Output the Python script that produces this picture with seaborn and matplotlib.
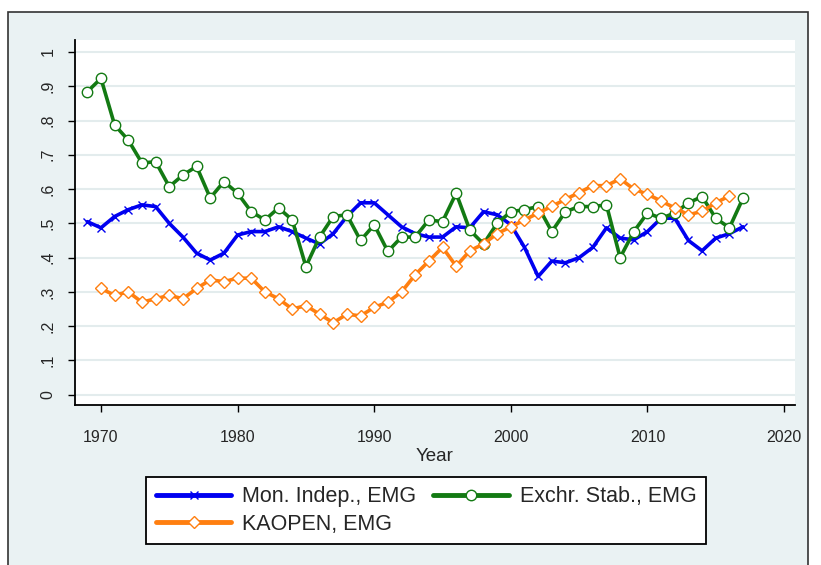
import matplotlib
matplotlib.use("Agg")
import matplotlib.pyplot as plt
from matplotlib.patches import Rectangle
import seaborn as sns

# ------------------------------------------------------------
# Trilemma indexes, emerging market group
# ------------------------------------------------------------
years_mi = list(range(1969, 2018))
mon_indep = [0.505, 0.487, 0.52, 0.54, 0.554, 0.549, 0.50, 0.46, 0.413, 0.393,
             0.413, 0.466, 0.476, 0.476, 0.49, 0.476, 0.457, 0.44, 0.47, 0.52,
             0.56, 0.56, 0.525, 0.49, 0.47, 0.46, 0.46, 0.49, 0.487, 0.534,
             0.525, 0.496, 0.43, 0.345, 0.39, 0.385, 0.40, 0.43, 0.487, 0.457,
             0.452, 0.476, 0.515, 0.515, 0.45, 0.42, 0.457, 0.47, 0.49]

years_es = list(range(1969, 2018))
exch_stab = [0.884, 0.923, 0.787, 0.743, 0.676, 0.68, 0.607, 0.641, 0.666, 0.574,
             0.622, 0.588, 0.534, 0.51, 0.545, 0.51, 0.374, 0.46, 0.52, 0.525,
             0.45, 0.496, 0.418, 0.46, 0.46, 0.51, 0.505, 0.588, 0.48, 0.44,
             0.50, 0.534, 0.54, 0.549, 0.476, 0.534, 0.549, 0.549, 0.554, 0.40,
             0.476, 0.53, 0.515, 0.53, 0.56, 0.578, 0.515, 0.487, 0.574]

years_ka = list(range(1970, 2017))
kaopen = [0.31, 0.29, 0.30, 0.27, 0.28, 0.29, 0.28, 0.31, 0.335, 0.33,
          0.34, 0.34, 0.30, 0.28, 0.25, 0.26, 0.235, 0.21, 0.235, 0.23,
          0.255, 0.27, 0.30, 0.35, 0.39, 0.43, 0.375, 0.42, 0.44, 0.47,
          0.49, 0.51, 0.53, 0.55, 0.57, 0.59, 0.61, 0.61, 0.63, 0.60,
          0.585, 0.565, 0.545, 0.525, 0.535, 0.56, 0.58]

BG = "#eaf2f3"
BLUE = "#0000f0"
GREEN = "#137a13"
ORANGE = "#ff7f10"

sns.set_style("white")
plt.rcParams["font.family"] = ["Liberation Sans", "DejaVu Sans"]

fig = plt.figure(figsize=(8.21, 5.65), dpi=100, facecolor="white")
# outer frame of the graph region
fig.patches.append(Rectangle((8 / 821, -0.05), 800 / 821, 1.05 - 12 / 565,
                             transform=fig.transFigure, facecolor=BG,
                             edgecolor="#333333", linewidth=1.2, zorder=-5))

ax = fig.add_axes([75 / 821, 1 - 405 / 565, 720 / 821, 365 / 565])
ax.set_zorder(2)
ax.set_facecolor("white")

sns.lineplot(x=years_mi, y=mon_indep, ax=ax, color=BLUE, lw=2.6,
             marker="x", ms=6, mew=1.0, mec=BLUE, label="Mon. Indep., EMG")
sns.lineplot(x=years_es, y=exch_stab, ax=ax, color=GREEN, lw=2.6,
             marker="o", ms=7.5, mew=1.0, mec=GREEN, mfc="white",
             label="Exchr. Stab., EMG")
sns.lineplot(x=years_ka, y=kaopen, ax=ax, color=ORANGE, lw=2.6,
             marker="D", ms=6.5, mew=1.0, mec=ORANGE, mfc="white",
             label="KAOPEN, EMG")

ax.set_xlim(1968.1, 2020.8)
ax.set_ylim(-0.03, 1.035)
ax.set_xticks([1970, 1980, 1990, 2000, 2010, 2020])
yt = [i / 10 for i in range(11)]
ax.set_yticks(yt)
ax.set_yticklabels(["0"] + ["." + str(i) for i in range(1, 10)] + ["1"],
                   rotation=90, va="center")
ax.yaxis.grid(True, color="#e3eced", lw=1.5)
ax.xaxis.grid(False)
ax.set_axisbelow(True)

for s in ["top", "right"]:
    ax.spines[s].set_visible(False)
for s in ["left", "bottom"]:
    ax.spines[s].set_color("black")
    ax.spines[s].set_linewidth(1.3)
ax.tick_params(axis="both", length=5, width=1, color="black",
               labelsize=11.5, direction="out", left=True, bottom=True)
ax.tick_params(axis="y", pad=9)
ax.tick_params(axis="x", pad=13)

ax.set_xlabel("Year", fontsize=13.5, labelpad=2)
ax.set_ylabel("")

handles, labels = ax.get_legend_handles_labels()
ax.get_legend().remove()
# ncol=2 fills column-wise, so reorder to get row-wise entries
order = [0, 2, 1]
leg = fig.legend([handles[i] for i in order], [labels[i] for i in order],
                 loc="center", bbox_to_anchor=(0.519, 0.0965),
                 ncol=2, fontsize=15.5, frameon=True, fancybox=False,
                 edgecolor="black", facecolor="white", framealpha=1,
                 handlelength=3.5, handletextpad=0.5, columnspacing=0.8,
                 borderpad=0.45, labelspacing=0.3)
leg.get_frame().set_linewidth(1.3)
for ln in leg.get_lines():
    ln.set_linewidth(3.5)

fig.savefig("out.png", dpi=100)
